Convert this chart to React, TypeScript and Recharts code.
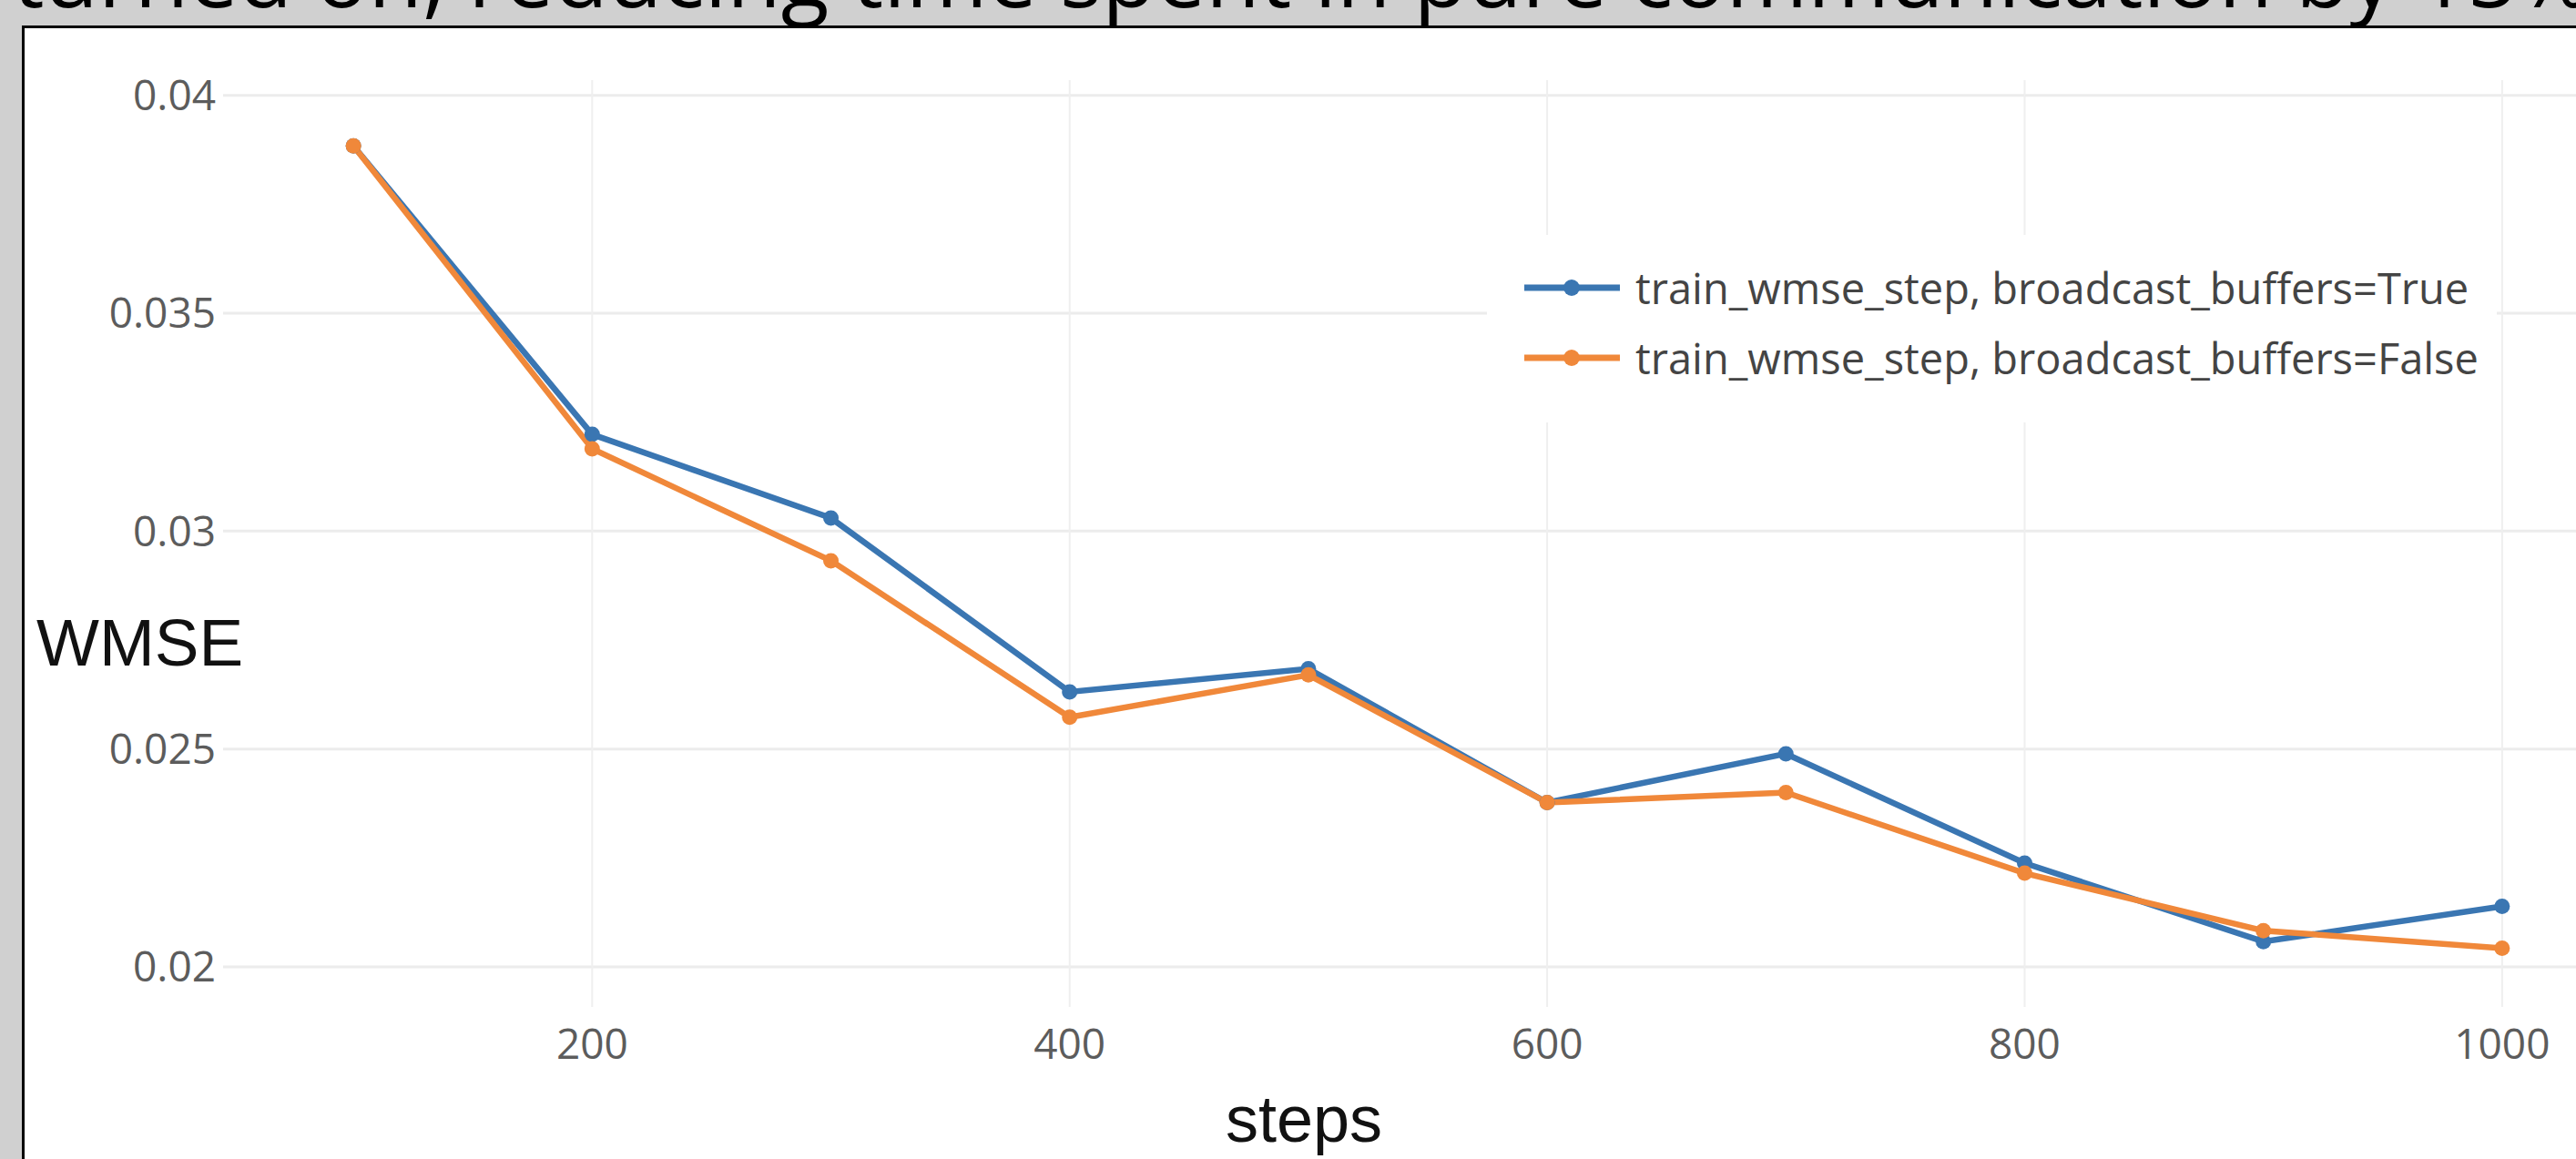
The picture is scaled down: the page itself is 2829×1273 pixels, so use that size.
import React from "react";
import {
  LineChart,
  Line,
  XAxis,
  YAxis,
  CartesianGrid,
  Legend,
} from "recharts";

const STEPS = [100, 200, 300, 400, 500, 600, 700, 800, 900, 1000];
const WMSE_BROADCAST_TRUE = [
  0.03884, 0.03222, 0.0303, 0.02631, 0.02684, 0.02377, 0.02489, 0.02238,
  0.02058, 0.02139,
];
const WMSE_BROADCAST_FALSE = [
  0.03884, 0.03189, 0.02932, 0.02573, 0.0267, 0.02377, 0.024, 0.02215,
  0.02083, 0.02043,
];
const SERIES_NAMES = [
  "train_wmse_step, broadcast_buffers=True",
  "train_wmse_step, broadcast_buffers=False",
];
const X_TICKS = [200, 400, 600, 800, 1000];
const Y_TICKS = [0.02, 0.025, 0.03, 0.035, 0.04];

const HEADLINE = "turned on, reducing time spent in pure communication by 15%";

const BLUE = "#3a76b2";
const ORANGE = "#f0883a";

const data = STEPS.map((step, i) => ({
  step,
  on: WMSE_BROADCAST_TRUE[i],
  off: WMSE_BROADCAST_FALSE[i],
}));

// keep legend rows in the order the series are declared
const LegendContent = (props: any) => {
  const payload = [...(props.payload || [])].sort(
    (a: any, b: any) =>
      SERIES_NAMES.indexOf(a.value) - SERIES_NAMES.indexOf(b.value)
  );
  return (
    <div style={{ paddingLeft: 41, paddingTop: 19 }}>
      {payload.map((entry: any) => (
        <div
          key={entry.value}
          style={{ display: "flex", alignItems: "center", height: 77 }}
        >
          <svg width={105} height={20} style={{ flex: "none" }}>
            <line x1={0} y1={10} x2={105} y2={10} stroke={entry.color} strokeWidth={7} />
            <circle cx={52} cy={10} r={9} fill={entry.color} />
          </svg>
          <span
            style={{
              marginLeft: 17,
              fontFamily: "'Open Sans', sans-serif",
              fontSize: 47,
              color: "#444",
              whiteSpace: "nowrap",
            }}
          >
            {entry.value}
          </span>
        </div>
      ))}
    </div>
  );
};

const tickStyle = {
  fontFamily: "'Open Sans', sans-serif",
  fontSize: 46,
  fill: "#5c5c5c",
};

export default function App() {
  return (
    <div
      style={{
        position: "absolute",
        left: 0,
        top: 0,
        width: 2829,
        height: 1273,
        overflow: "hidden",
        background: "#d0d0d0",
      }}
    >
      <div
        style={{
          position: "absolute",
          left: 14,
          top: -80,
          fontFamily: "'Open Sans', sans-serif",
          fontSize: 97,
          lineHeight: "100px",
          color: "#000",
          whiteSpace: "nowrap",
        }}
      >
        {HEADLINE}
      </div>

      <div
        style={{
          position: "absolute",
          left: 24,
          top: 28,
          width: 2900,
          height: 1300,
          background: "#fff",
          borderLeft: "3px solid #000",
          borderTop: "3px solid #000",
        }}
      />

      <div style={{ position: "absolute", left: 0, top: 0 }}>
        <LineChart
          width={2950}
          height={1273}
          data={data}
          margin={{ top: 88, right: 59, bottom: 0, left: 0 }}
        >
          <CartesianGrid
            vertical={false}
            syncWithTicks
            stroke="#ececec"
            strokeWidth={3}
          />
          <CartesianGrid
            horizontal={false}
            syncWithTicks
            stroke="#efefef"
            strokeWidth={2}
          />
          <XAxis
            dataKey="step"
            type="number"
            domain={[45.4, 1054.6]}
            ticks={X_TICKS}
            allowDataOverflow
            axisLine={false}
            tickLine={false}
            tickSize={0}
            tickMargin={24}
            height={167}
            tick={tickStyle}
          />
          <YAxis
            type="number"
            domain={[0.01908, 0.04035]}
            ticks={Y_TICKS}
            allowDataOverflow
            axisLine={false}
            tickLine={false}
            tickSize={0}
            tickMargin={8}
            width={245}
            tick={tickStyle}
            tickFormatter={(v: number) => String(v)}
          />
          <Legend
            layout="vertical"
            align="center"
            verticalAlign="middle"
            content={<LegendContent />}
            wrapperStyle={{
              left: 1633,
              top: 258,
              width: 1109,
              height: 206,
              background: "#fff",
            }}
          />
          <Line
            name={SERIES_NAMES[0]}
            dataKey="on"
            stroke={BLUE}
            strokeWidth={6.5}
            dot={{ r: 8.5, fill: BLUE, stroke: BLUE, strokeWidth: 0 }}
            activeDot={false}
            isAnimationActive={false}
          />
          <Line
            name={SERIES_NAMES[1]}
            dataKey="off"
            stroke={ORANGE}
            strokeWidth={6.5}
            dot={{ r: 8.5, fill: ORANGE, stroke: ORANGE, strokeWidth: 0 }}
            activeDot={false}
            isAnimationActive={false}
          />
        </LineChart>
      </div>

      <div
        style={{
          position: "absolute",
          left: 40,
          top: 670,
          fontFamily: "'Liberation Sans', Arial, sans-serif",
          fontSize: 73,
          lineHeight: "72px",
          color: "#111",
        }}
      >
        WMSE
      </div>
      <div
        style={{
          position: "absolute",
          left: 1232,
          top: 1193,
          width: 400,
          textAlign: "center",
          fontFamily: "'Liberation Sans', Arial, sans-serif",
          fontSize: 72,
          lineHeight: "72px",
          color: "#111",
        }}
      >
        steps
      </div>
    </div>
  );
}
